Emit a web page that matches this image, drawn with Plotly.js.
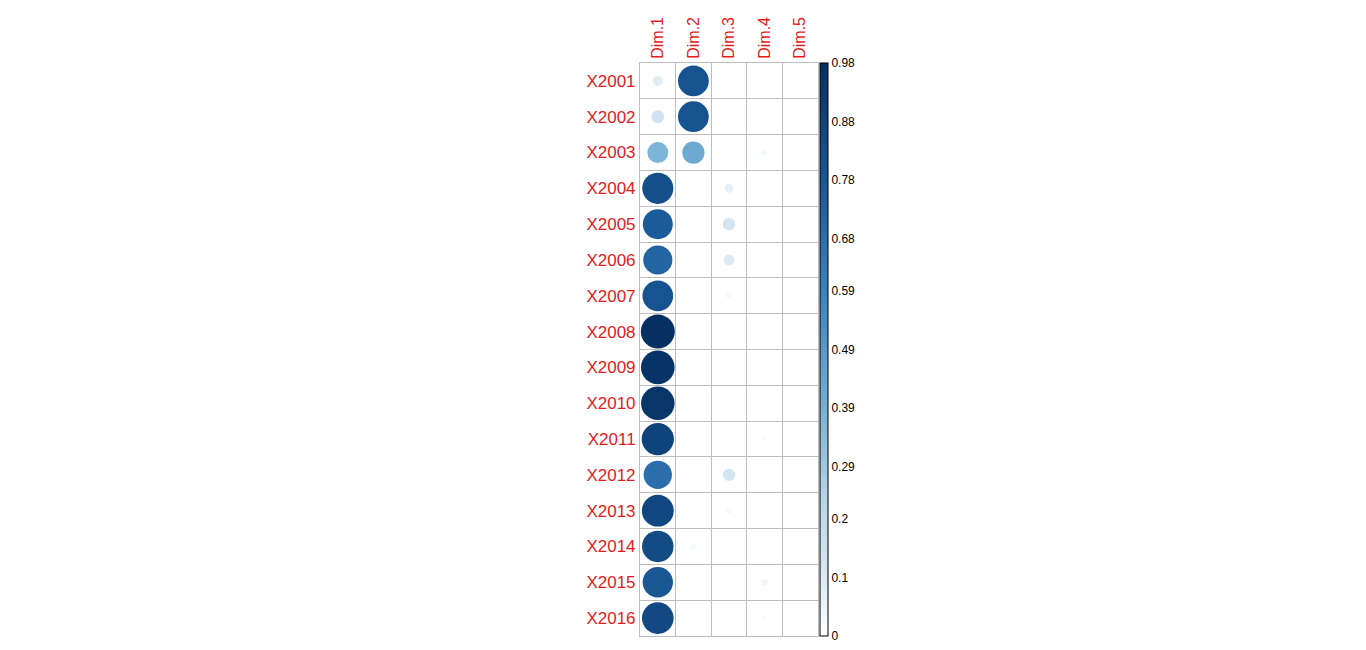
<!DOCTYPE html>
<html>
<head>
<meta charset="utf-8">
<script src="https://cdn.plot.ly/plotly-3.0.1.min.js"></script>
<style>html,body{margin:0;padding:0;background:#fff}#plot{width:1366px;height:650px}</style>
</head>
<body>
<div id="plot"></div>
<script>
const rows = ["X2001","X2002","X2003","X2004","X2005","X2006","X2007","X2008",
              "X2009","X2010","X2011","X2012","X2013","X2014","X2015","X2016"];
const dims = ["Dim.1","Dim.2","Dim.3","Dim.4","Dim.5"];

// cos2 values, one array per dimension (rows in order above)
const dim1 = [0.085,0.14,0.37,0.82,0.76,0.72,0.80,0.98,0.96,0.95,0.88,0.68,0.86,0.84,0.78,0.85];
const dim2 = [0.80,0.80,0.42,0.0,0.0,0.005,0.01,0.0,0.0,0.0,0.002,0.005,0.01,0.03,0.01,0.01];
const dim3 = [0.0,0.0,0.0,0.07,0.13,0.10,0.03,0.0,0.0,0.0,0.01,0.13,0.03,0.01,0.008,0.0];
const dim4 = [0.0,0.0,0.03,0.0,0.0,0.0,0.0,0.0,0.0,0.0,0.02,0.0,0.0,0.0,0.04,0.02];
const dim5 = [0.005,0.0,0.01,0.0,0.0,0.0,0.0,0.0,0.0,0.0,0.0,0.0,0.0,0.003,0.0,0.0];

const barTicks = [0,0.1,0.2,0.29,0.39,0.49,0.59,0.68,0.78,0.88,0.98];
const vmax = 0.98;
const maxSize = 34;

const cols = [dim1, dim2, dim3, dim4, dim5];
const xs = [], ys = [], vs = [];
cols.forEach((col, j) => col.forEach((v, i) => { xs.push(j); ys.push(i); vs.push(v); }));

const trace = {
    x: xs, y: ys, type: "scatter", mode: "markers", hoverinfo: "skip",
    marker: {
        size: vs.map(v => maxSize * Math.sqrt(v / vmax)),
        opacity: 1,
        color: vs, cmin: 0, cmax: vmax,
        colorscale: [[0,"#FFFFFF"],[0.1,"#DCEAF4"],[0.25,"#B3D3E8"],[0.4,"#74B0D5"],
                     [0.6,"#3A83BE"],[0.78,"#1B5A99"],[1,"#053061"]],
        line: { width: 0 },
        colorbar: {
            x: 1.011, xanchor: "left", xref: "paper", y: 0.5, len: 1, lenmode: "fraction",
            thickness: 8, outlinecolor: "#000", outlinewidth: 1,
            tickvals: barTicks, ticktext: barTicks.map(String), ticks: "",
            tickfont: { family: "Liberation Sans, Arial", size: 12, color: "#000" },
            ypad: 0, xpad: 0
        }
    }
};

const grid = "#bebebe";
const layout = {
    width: 1366, height: 650,
    margin: { l: 640, r: 548, t: 63, b: 14 },
    paper_bgcolor: "#fff", plot_bgcolor: "#fff",
    showlegend: false,
    xaxis: {
        range: [-0.5, 4.5], side: "top", tickvals: [0,1,2,3,4], ticktext: dims,
        tickangle: -90, showgrid: false, zeroline: false, ticks: "",
        showline: true, mirror: true, linecolor: grid,
        tickfont: { family: "Liberation Sans, Arial", size: 16, color: "#e41a1c" },
        minor: { tick0: 0.5, dtick: 1, showgrid: true, gridcolor: grid, ticks: "" }
    },
    yaxis: {
        range: [15.5, -0.5], tickvals: rows.map((r, i) => i), ticktext: rows,
        showgrid: false, zeroline: false, ticks: "",
        showline: true, mirror: true, linecolor: grid,
        tickfont: { family: "Liberation Sans, Arial", size: 17, color: "#e41a1c" },
        minor: { tick0: 0.5, dtick: 1, showgrid: true, gridcolor: grid, ticks: "" }
    }
};

Plotly.newPlot("plot", [trace], layout, { displayModeBar: false, staticPlot: true });
</script>
</body>
</html>
